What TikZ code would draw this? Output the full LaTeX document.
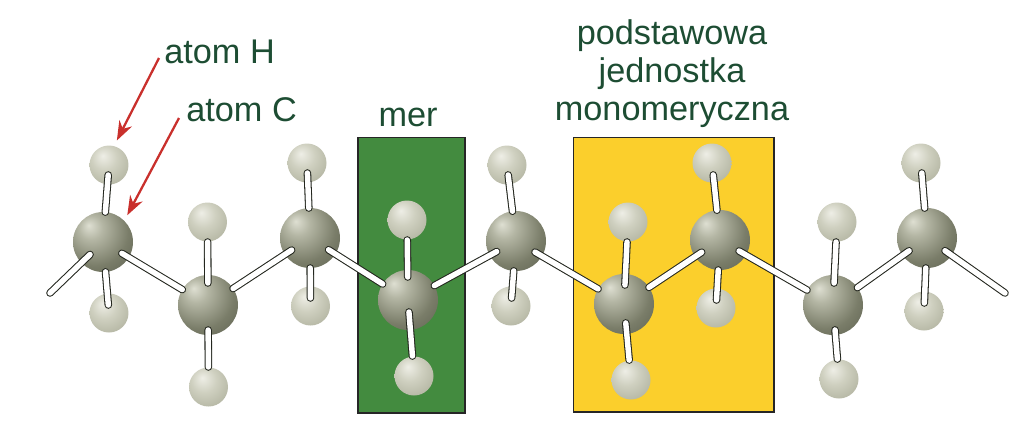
\documentclass[tikz,border=0pt]{standalone}
\usepackage{fontspec}
\setmainfont{Liberation Sans}
\usetikzlibrary{arrows.meta}
\definecolor{labelgreen}{HTML}{1D4D33}
\definecolor{merfill}{HTML}{438B3F}
\definecolor{unitfill}{HTML}{FBCF2C}
\definecolor{arrowred}{HTML}{C9302C}
\definecolor{bondline}{HTML}{23261E}
\definecolor{ca}{HTML}{DEDFD2}
\definecolor{cb}{HTML}{B4B6A4}
\definecolor{cc}{HTML}{7A7D69}
\definecolor{cd}{HTML}{4F5344}
\definecolor{ce}{HTML}{5F6353}
\definecolor{ha}{HTML}{EEEEE6}
\definecolor{hb}{HTML}{CFD0C0}
\definecolor{hc}{HTML}{ABAD99}
\definecolor{hd}{HTML}{8E907C}
\pgfdeclareradialshading{carbonball}{\pgfpoint{-12bp}{14bp}}{color(0bp)=(ca);color(10bp)=(cb);color(28bp)=(cc);color(52bp)=(cd);color(68bp)=(ce)}
\pgfdeclareradialshading{hydrogenball}{\pgfpoint{-8bp}{12bp}}{color(0bp)=(ha);color(16bp)=(hb);color(40bp)=(hc);color(64bp)=(hd)}
\tikzset{
  carbon/.style={circle,minimum size=1.2cm,inner sep=0,shading=carbonball},
  hydrogen/.style={circle,minimum size=.78cm,inner sep=0,shading=hydrogenball},
  bond/.style 2 args={line width=.6pt,draw=bondline,double=white,double distance=3.1pt,line cap=round,shorten <=#1,shorten >=#2},
  pointer/.style={draw=arrowred,line width=1.3pt,-{Stealth[length=11pt,width=8pt]}},
  colbox/.style={draw=black!85,line width=.6pt},
  lbl/.style={text=labelgreen,font=\fontsize{19.5}{21.6}\selectfont,align=center,inner sep=0}
}
\begin{document}
\begin{tikzpicture}[x=.02cm,y=-.02cm]
\useasboundingbox (0,0) rectangle (1023,437);
% boxes behind the chain
\node[colbox,fill=merfill,minimum width=2.14cm,minimum height=5.52cm,inner sep=0] (merbox) at (411.5,275) {};
\node[colbox,fill=unitfill,minimum width=4.02cm,minimum height=5.5cm,inner sep=0] (unitbox) at (673.5,274.5) {};
% carbon atoms
\node[carbon] (c1) at (103,242) {};
\node[carbon] (c2) at (208,305) {};
\node[carbon] (c3) at (310,238) {};
\node[carbon] (c4) at (408,300) {};
\node[carbon] (c5) at (516,241) {};
\node[carbon] (c6) at (624,304) {};
\node[carbon] (c7) at (720,240) {};
\node[carbon] (c8) at (833,305) {};
\node[carbon] (c9) at (927,238) {};
% hydrogen atoms
\node[hydrogen] (h1a) at (109,165) {};
\node[hydrogen] (h1b) at (109,313) {};
\node[hydrogen] (h2a) at (207.5,222) {};
\node[hydrogen] (h2b) at (208.5,387) {};
\node[hydrogen] (h3a) at (307,163) {};
\node[hydrogen] (h3b) at (310.5,306) {};
\node[hydrogen] (h4a) at (407,220) {};
\node[hydrogen] (h4b) at (414,376) {};
\node[hydrogen] (h5a) at (507,165) {};
\node[hydrogen] (h5b) at (511,306) {};
\node[hydrogen] (h6a) at (628,222) {};
\node[hydrogen] (h6b) at (631,380) {};
\node[hydrogen] (h7a) at (712,163) {};
\node[hydrogen] (h7b) at (716,308) {};
\node[hydrogen] (h8a) at (837,222) {};
\node[hydrogen] (h8b) at (839,379) {};
\node[hydrogen] (h9a) at (921,163) {};
\node[hydrogen] (h9b) at (924,311) {};
% chain
\coordinate (endl) at (50,293);
\coordinate (endr) at (1005,293);
\draw[bond={0cm}{.36cm}] (endl) -- (c1.center);
\draw[bond={.44cm}{.6cm}] (c1.center) -- (c2.center);
\draw[bond={.6cm}{.44cm}] (c2.center) -- (c3.center);
\draw[bond={.44cm}{.6cm}] (c3.center) -- (c4.center);
\draw[bond={.6cm}{.44cm}] (c4.center) -- (c5.center);
\draw[bond={.44cm}{.6cm}] (c5.center) -- (c6.center);
\draw[bond={.6cm}{.44cm}] (c6.center) -- (c7.center);
\draw[bond={.44cm}{.6cm}] (c7.center) -- (c8.center);
\draw[bond={.6cm}{.44cm}] (c8.center) -- (c9.center);
\draw[bond={.44cm}{0cm}] (c9.center) -- (endr);
% side groups
\draw[bond={.2cm}{.6cm}] (h1a.center) -- (c1.center);
\draw[bond={.6cm}{.16cm}] (c1.center) -- (h1b.center);
\draw[bond={.4cm}{.44cm}] (h2a.center) -- (c2.center);
\draw[bond={.5cm}{.4cm}] (c2.center) -- (h2b.center);
\draw[bond={.2cm}{.6cm}] (h3a.center) -- (c3.center);
\draw[bond={.6cm}{.16cm}] (c3.center) -- (h3b.center);
\draw[bond={.4cm}{.46cm}] (h4a.center) -- (c4.center);
\draw[bond={.24cm}{.4cm}] (c4.center) -- (h4b.center);
\draw[bond={.2cm}{.6cm}] (h5a.center) -- (c5.center);
\draw[bond={.6cm}{.16cm}] (c5.center) -- (h5b.center);
\draw[bond={.4cm}{.38cm}] (h6a.center) -- (c6.center);
\draw[bond={.38cm}{.4cm}] (c6.center) -- (h6b.center);
\draw[bond={.24cm}{.6cm}] (h7a.center) -- (c7.center);
\draw[bond={.6cm}{.16cm}] (c7.center) -- (h7b.center);
\draw[bond={.4cm}{.44cm}] (h8a.center) -- (c8.center);
\draw[bond={.5cm}{.4cm}] (c8.center) -- (h8b.center);
\draw[bond={.2cm}{.6cm}] (h9a.center) -- (c9.center);
\draw[bond={.6cm}{.16cm}] (c9.center) -- (h9b.center);
% labels
\node[lbl,anchor=base west] (labh) at (164,63) {atom H};
\node[lbl,anchor=base west] (labc) at (186,121) {atom C};
\node[lbl,anchor=base] (labmer) at (408,126) {mer};
\node[lbl,anchor=base] (labunit) at (672,120) {podstawowa\\jednostka\\monomeryczna};
% pointers
\coordinate (tailh) at (159,58);
\coordinate (tailc) at (179,118);
\draw[pointer,shorten >=.12cm] (tailh) -- (h1a.75);
\draw[pointer,shorten >=.12cm] (tailc) -- (c1.45);
\end{tikzpicture}
\end{document}
